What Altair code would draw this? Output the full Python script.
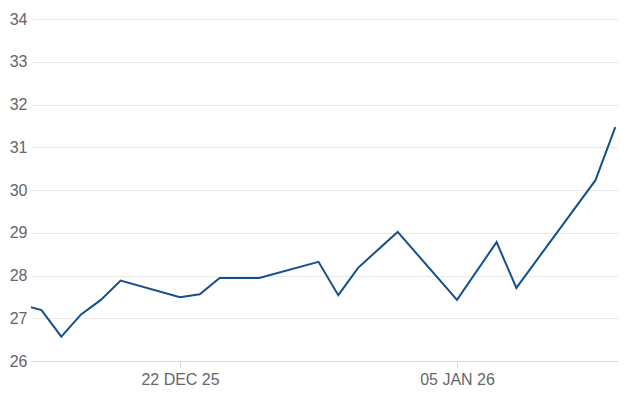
import altair as alt
import pandas as pd

dates = [
    "2025-12-12", "2025-12-15", "2025-12-16", "2025-12-17", "2025-12-18",
    "2025-12-19", "2025-12-22", "2025-12-23", "2025-12-24", "2025-12-26",
    "2025-12-29", "2025-12-30", "2025-12-31", "2026-01-02", "2026-01-05",
    "2026-01-07", "2026-01-08", "2026-01-12", "2026-01-13",
]
values = [
    27.58, 27.19, 26.57, 27.09, 27.43,
    27.88, 27.49, 27.56, 27.94, 27.94,
    28.32, 27.54, 28.18, 29.02, 27.43,
    28.78, 27.71, 30.23, 31.47,
]
y_ticks = [26, 27, 28, 29, 30, 31, 32, 33, 34]

df = pd.DataFrame({"date": dates, "value": values})

x_domain = [
    alt.DateTime(year=2025, month=12, date=14, hours=11, minutes=15, utc=True),
    alt.DateTime(year=2026, month=1, date=13, hours=3, minutes=17, utc=True),
]
x_ticks = [
    alt.DateTime(year=2025, month=12, date=22, utc=True),
    alt.DateTime(year=2026, month=1, date=5, utc=True),
]

chart = (
    alt.Chart(df)
    .mark_line(color="#14508c", strokeWidth=2, clip=True)
    .encode(
        x=alt.X(
            "date:T",
            scale=alt.Scale(type="utc", domain=x_domain),
            axis=alt.Axis(
                values=x_ticks,
                labelExpr="upper(utcFormat(datum.value, '%d %b %y'))",
                title=None,
                grid=False,
                domain=True,
                domainColor="#d6d6d6",
                domainWidth=1,
                ticks=True,
                tickSize=7,
                tickColor="#d6d6d6",
                labelPadding=3,
                labelFontSize=16,
                labelColor="#666666",
                labelFont="Liberation Sans",
            ),
        ),
        y=alt.Y(
            "value:Q",
            scale=alt.Scale(domain=[26, 34], nice=False, zero=False),
            axis=alt.Axis(
                values=y_ticks,
                title=None,
                domain=False,
                ticks=False,
                grid=True,
                gridColor="#e8e8e8",
                gridWidth=1,
                labelPadding=4,
                labelFontSize=16,
                labelColor="#666666",
                labelFont="Liberation Sans",
            ),
        ),
    )
    .properties(
        width=587,
        height=342,
        autosize=alt.AutoSizeParams(type="none"),
        padding={"left": 23, "top": 11, "right": 0, "bottom": 40},
    )
    .configure_view(stroke=None)
)

chart.save("out.html", embed_options={"renderer": "svg", "actions": False})
